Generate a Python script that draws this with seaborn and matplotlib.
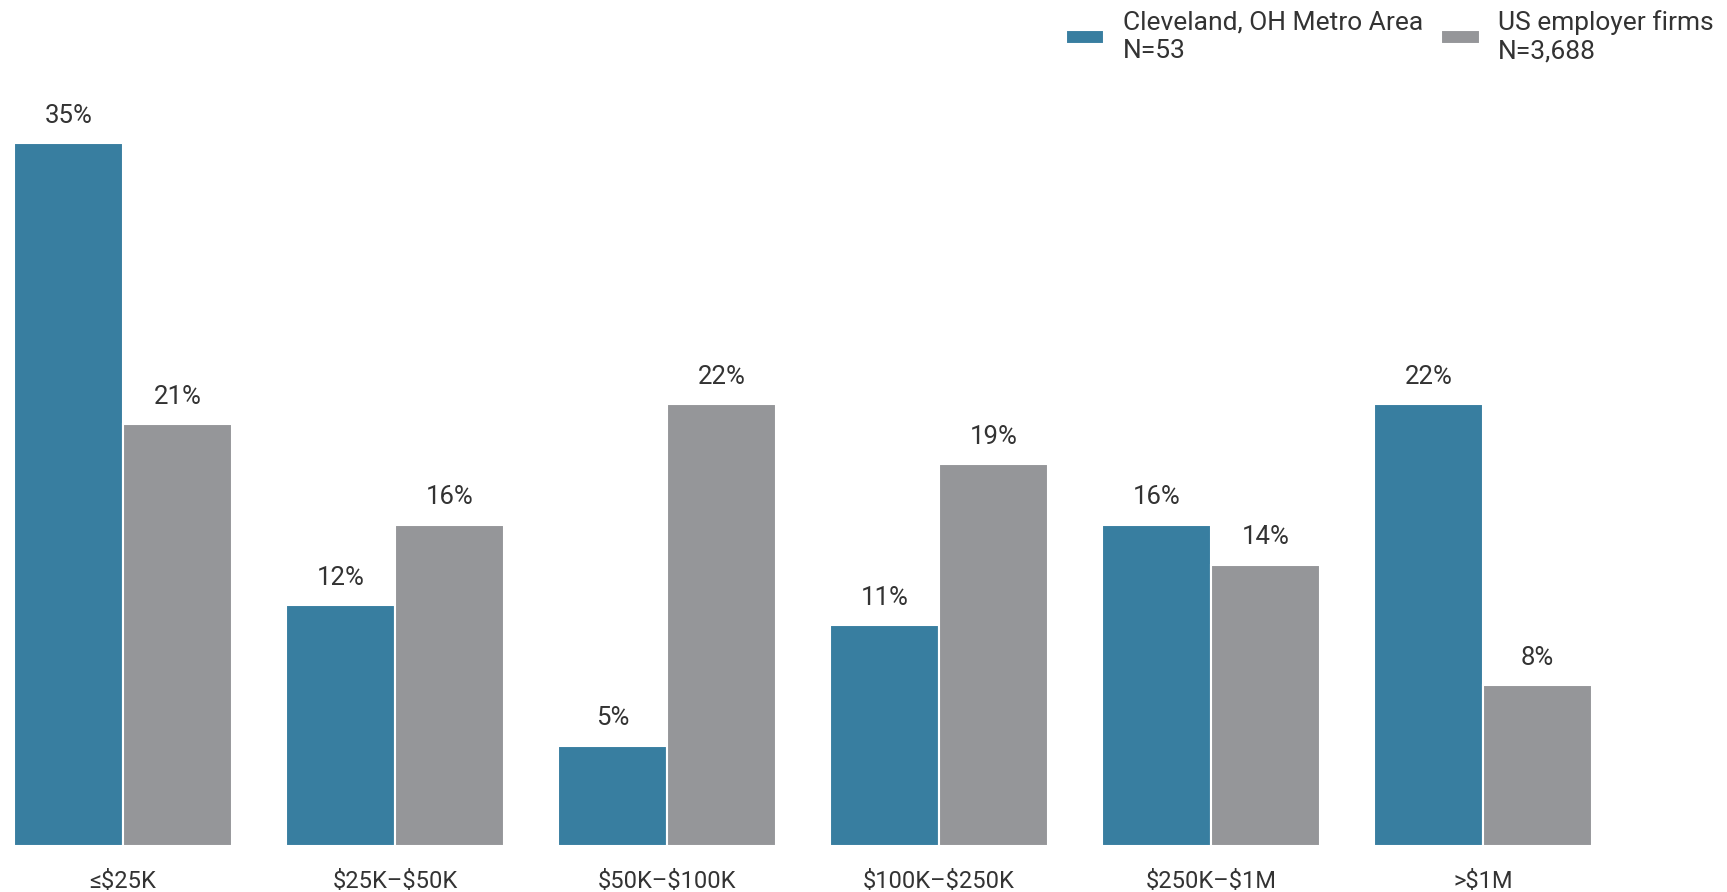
import numpy as np
import pandas as pd
import matplotlib
matplotlib.use("Agg")
import matplotlib.pyplot as plt
import seaborn as sns

# revenue bands and shares (%)
categories = ["≤$25K", "$25K–$50K", "$50K–$100K", "$100K–$250K", "$250K–$1M", ">$1M"]
cleveland = [35, 12, 5, 11, 16, 22]
us_firms = [21, 16, 22, 19, 14, 8]
series_names = ["Cleveland, OH Metro Area\nN=53", "US employer firms\nN=3,688"]
colors = ["#387ea0", "#959699"]

df = pd.DataFrame({
    "category": categories * 2,
    "share": cleveland + us_firms,
    "series": [series_names[0]] * len(categories) + [series_names[1]] * len(categories),
})

sns.set_style("white")
plt.rcParams["font.family"] = ["Roboto", "DejaVu Sans"]
plt.rcParams["text.parse_math"] = False  # keep the $ signs literal

fig = plt.figure(figsize=(17.27, 8.92), dpi=100)
ax = fig.add_axes([0.0083, 0.0516, 0.9917, 0.90])

sns.barplot(data=df, x="category", y="share", hue="series", order=categories,
            hue_order=series_names, palette=colors, width=0.8,
            edgecolor="white", linewidth=1.5, saturation=1, ax=ax)

for cont in ax.containers:
    ax.bar_label(cont, fmt="%d%%", padding=11, fontsize=18.5, color="#333333")

ax.set_xlim(-0.4, 5.897)
ax.set_ylim(0, 39.96)
ax.set_xlabel("")
ax.set_ylabel("")
ax.set_yticks([])
ax.tick_params(axis="x", length=0, pad=17, labelsize=17, labelcolor="#333333")
sns.despine(ax=ax, left=True, bottom=True)

ax.legend(loc="upper right", bbox_to_anchor=(1.0, 1.003), bbox_transform=fig.transFigure,
          ncol=2, frameon=False, fontsize=19, handlelength=1.45, handleheight=0.45,
          handletextpad=0.7, columnspacing=0.7, borderaxespad=0.1, labelcolor="#333333",
          labelspacing=0.2)

plt.savefig("out.png", dpi=100)
